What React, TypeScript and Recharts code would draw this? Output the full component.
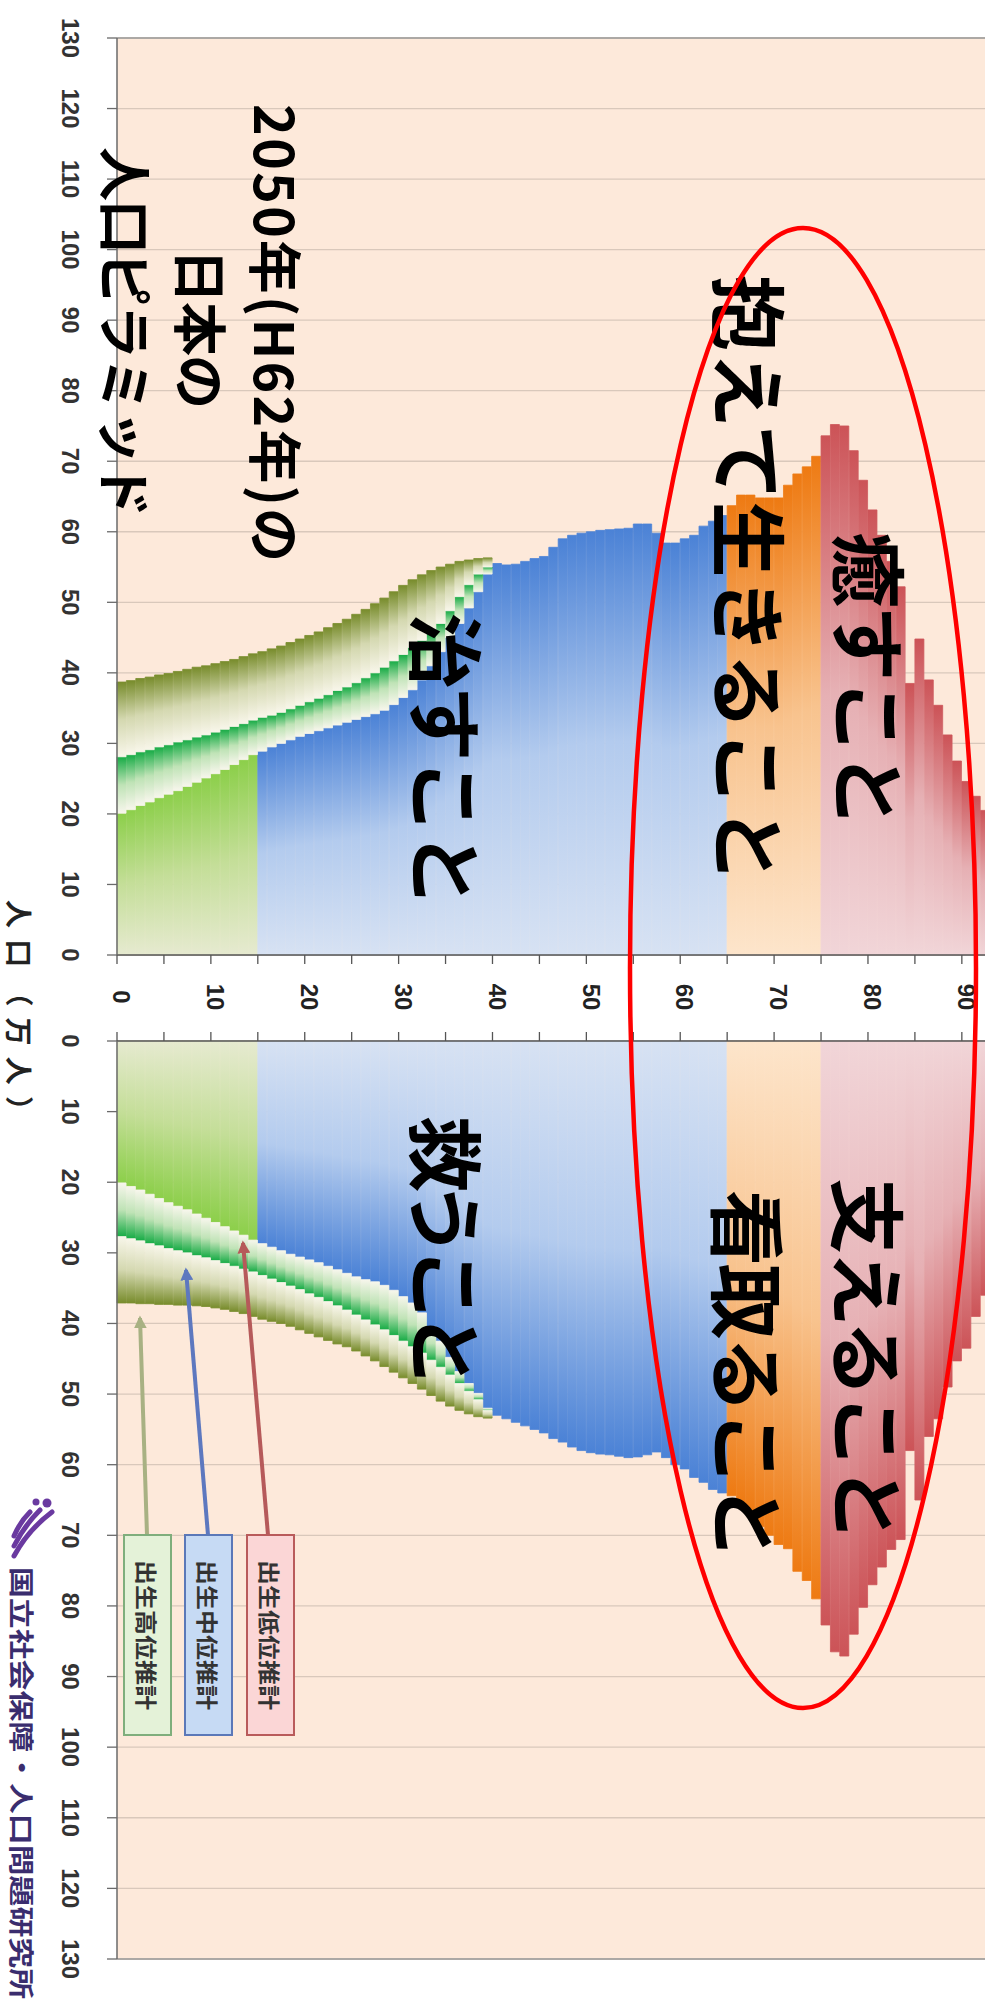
import React from "react";
import { BarChart, Bar, XAxis, YAxis, CartesianGrid, Cell, ReferenceLine } from "recharts";

// Japan, 2050 projection: population by single year of age (10,000 persons).
// The "Low" series is the low-fertility variant; from age 40 up every variant agrees.
const maleLow = [
  20.1, 20.6, 21.2, 21.7, 22.3, 22.8, 23.3, 23.9, 24.5, 25.1,
  25.7, 26.3, 27.0, 27.7, 28.4, 28.9, 29.5, 30.0, 30.5, 31.0,
  31.4, 31.8, 32.2, 32.6, 33.0, 33.4, 33.8, 34.2, 34.7, 35.5,
  36.5, 37.6, 39.0, 41.0, 43.0, 45.0, 47.0, 49.2, 51.5, 54.0,
  55.5, 55.3, 55.4, 55.8, 56.2, 56.5, 57.8, 59.0, 59.5, 59.8,
  60.0, 60.2, 60.3, 60.4, 60.5, 61.1, 61.1, 59.8, 58.4, 58.4,
  59.0, 59.5, 60.8, 61.5, 62.3, 63.7, 65.2, 65.2, 64.8, 64.8,
  64.8, 66.6, 68.2, 69.2, 70.7, 73.6, 75.2, 75.0, 71.5, 67.3,
  63.1, 59.5, 55.8, 52.2, 38.5, 44.8, 39.0, 35.4, 31.2, 27.5,
  24.6, 22.5, 20.5,
];
const maleMid = [
  28.1, 28.4, 28.8, 29.1, 29.5, 29.8, 30.2, 30.5, 30.9, 31.2,
  31.6, 32.0, 32.4, 32.8, 33.3, 33.7, 34.0, 34.4, 34.9, 35.4,
  35.9, 36.4, 36.9, 37.5, 38.0, 38.6, 39.3, 40.0, 40.8, 41.7,
  42.6, 43.6, 44.6, 45.6, 47.0, 48.8, 50.8, 52.5, 54.0, 55.0,
];
const maleHigh = [
  38.7, 38.9, 39.2, 39.4, 39.7, 39.9, 40.2, 40.5, 40.8, 41.0,
  41.3, 41.6, 41.9, 42.3, 42.7, 43.0, 43.4, 43.8, 44.3, 44.8,
  45.3, 45.8, 46.4, 47.0, 47.6, 48.3, 49.0, 49.8, 50.6, 51.5,
  52.4, 53.2, 53.9, 54.5, 55.0, 55.4, 55.8, 56.0, 56.2, 56.3,
];
const femaleLow = [
  20.1, 20.6, 21.1, 21.7, 22.3, 22.9, 23.4, 23.9, 24.5, 25.1,
  25.7, 26.3, 26.9, 27.5, 28.2, 28.7, 29.2, 29.7, 30.2, 30.6,
  31.0, 31.4, 31.9, 32.4, 32.9, 33.4, 33.8, 34.1, 34.6, 35.3,
  36.2, 37.1, 38.5, 40.5, 42.5, 44.8, 46.8, 48.5, 49.9, 52.0,
  53.0, 53.5, 54.0, 54.5, 55.0, 55.5, 56.3, 56.8, 57.5, 58.0,
  58.3, 58.5, 58.6, 58.8, 59.0, 58.9, 58.6, 58.2, 59.0, 60.0,
  60.6, 61.8, 62.5, 63.5, 64.0, 64.4, 65.6, 66.9, 68.8, 70.0,
  71.3, 71.9, 75.1, 76.4, 79.0, 82.7, 86.5, 87.1, 84.0, 80.2,
  77.0, 74.5, 72.0, 70.6, 58.0, 65.0, 56.0, 53.5, 49.0, 45.3,
  43.5, 39.0, 36.0,
];
const femaleMid = [
  27.7, 28.0, 28.3, 28.7, 29.0, 29.4, 29.7, 30.0, 30.4, 30.7,
  31.1, 31.5, 31.9, 32.3, 32.7, 33.2, 33.7, 34.2, 34.7, 35.2,
  35.8, 36.3, 36.9, 37.5, 38.1, 38.8, 39.5, 40.2, 40.9, 41.7,
  42.5, 43.3, 44.2, 45.2, 46.2, 47.3, 48.5, 49.6, 50.8, 52.3,
];
const femaleHigh = [
  37.1, 37.1, 37.2, 37.2, 37.3, 37.3, 37.4, 37.4, 37.5, 37.6,
  37.8, 38.0, 38.3, 38.6, 39.0, 39.4, 39.7, 40.0, 40.4, 40.9,
  41.4, 41.9, 42.4, 42.9, 43.3, 43.9, 44.6, 45.3, 46.1, 46.9,
  47.7, 48.5, 49.3, 50.2, 51.0, 51.7, 52.3, 52.8, 53.2, 53.4,
];

const popTicks = [0, 10, 20, 30, 40, 50, 60, 70, 80, 90, 100, 110, 120, 130];
const WORK_AGE_FROM = 15;
const ELDER_FROM = 65;
const LATE_ELDER_FROM = 75;
const AGE_TICK_STEP = 5;
const AGE_LABEL_STEP = 10;

const title = ["2050年(H62年)の", "日本の", "人口ピラミッド"];
const variantLabels = ["出生高位推計", "出生中位推計", "出生低位推計"];
const yAxisTitle = "人口（万人）";
const sourceName = "国立社会保障・人口問題研究所";

type Row = {
  age: number;
  mBase: number; mBand1: number; mBand2: number;
  fBase: number; fBand1: number; fBand2: number;
  group: string;
};

const groupOf = (age: number) =>
  age < WORK_AGE_FROM ? "Green" : age < ELDER_FROM ? "Blue" : age < LATE_ELDER_FROM ? "Orange" : "Red";

const rows: Row[] = maleLow.map((m, age) => ({
  age,
  mBase: m,
  mBand1: age < maleMid.length ? maleMid[age] - m : 0,
  mBand2: age < maleHigh.length ? maleHigh[age] - maleMid[age] : 0,
  fBase: femaleLow[age],
  fBand1: age < femaleMid.length ? femaleMid[age] - femaleLow[age] : 0,
  fBand2: age < femaleHigh.length ? femaleHigh[age] - femaleMid[age] : 0,
  group: groupOf(age),
}));

// layout
const CHART_W = 1000;
const AXIS_W = 117;
const RIGHT_M = 10;
const PLOT_W = CHART_W - AXIS_W - RIGHT_M;
const BAND = PLOT_W / rows.length;

const NUM_FONT = "'Liberation Sans', Arial, sans-serif";
const JP_FONT = "'Noto Sans CJK JP', 'Noto Sans', sans-serif";

// colour ramps: [near axis, middle, tip]
const ramps: Record<string, string[]> = {
  Green: ["#e6ead0", "#c4de98", "#8ccf4a"],
  Blue: ["#d7e2f3", "#b3cbee", "#4b82d6"],
  Orange: ["#fde5cb", "#f8c38e", "#ee7a12"],
  Red: ["#f1d5d8", "#e6b0b4", "#cc5357"],
  Band1: ["#f7f6ec", "#bfe3b6", "#16ab45"],
  Band2: ["#f8f6ea", "#d4d8b0", "#788c2c"],
};

const Gradients = () => (
  <svg width={0} height={0} style={{ position: "absolute" }}>
    <defs>
      {Object.entries(ramps).map(([k, c]) => (
        <React.Fragment key={k}>
          <linearGradient id={`t${k}`} x1="0" y1="1" x2="0" y2="0">
            <stop offset="0" stopColor={c[0]} />
            <stop offset="0.5" stopColor={c[1]} />
            <stop offset="1" stopColor={c[2]} />
          </linearGradient>
          <linearGradient id={`b${k}`} x1="0" y1="0" x2="0" y2="1">
            <stop offset="0" stopColor={c[0]} />
            <stop offset="0.5" stopColor={c[1]} />
            <stop offset="1" stopColor={c[2]} />
          </linearGradient>
        </React.Fragment>
      ))}
      <marker id="arrowHead" viewBox="0 0 10 10" refX="8" refY="5" markerWidth="3.2" markerHeight="3.2" orient="auto-start-reverse">
        <path d="M0,0 L10,5 L0,10 z" fill="context-stroke" />
      </marker>
    </defs>
  </svg>
);

const PopTick = (props: any) => {
  const { x, y, payload } = props;
  const cx = x - 37;
  return (
    <text
      x={cx}
      y={y}
      transform={`rotate(90 ${cx} ${y})`}
      textAnchor="middle"
      dominantBaseline="central"
      fontFamily={NUM_FONT}
      fontWeight={700}
      fontSize={24}
      fill="#333"
    >
      {payload.value}
    </text>
  );
};

const makeAgeTick = (dir: number, withLabel: boolean) => (props: any) => {
  const { x, y, payload } = props;
  const a = Number(payload.value);
  if (a % AGE_TICK_STEP !== 0) return <g />;
  const tx = x - BAND / 2;
  const ly = y + 42;
  return (
    <g>
      <line x1={tx} x2={tx} y1={y} y2={y + dir * 9} stroke="#555" strokeWidth={1.3} />
      {withLabel && a % AGE_LABEL_STEP === 0 && (
        <text
          x={x}
          y={ly}
          transform={`rotate(90 ${x} ${ly})`}
          textAnchor="middle"
          dominantBaseline="central"
          fontFamily={NUM_FONT}
          fontWeight={700}
          fontSize={24}
          fill="#222"
        >
          {a}
        </text>
      )}
    </g>
  );
};

const TopAgeTick = makeAgeTick(1, true);
const BottomAgeTick = makeAgeTick(-1, false);

const VText = ({ x, y, size, len, color = "#000", weight = 700, family = JP_FONT, adjust = "spacing", children }: any) => (
  <text
    x={x}
    y={y}
    transform={`rotate(90 ${x} ${y})`}
    textAnchor="middle"
    dominantBaseline="central"
    fontFamily={family}
    fontWeight={weight}
    fontSize={size}
    fill={color}
    textLength={len}
    lengthAdjust={adjust}
  >
    {children}
  </text>
);

const Pyramid = ({ side }: { side: "m" | "f" }) => {
  const top = side === "m";
  const pre = top ? "t" : "b";
  return (
    <BarChart
      width={CHART_W}
      height={top ? 1041 : 1004}
      data={rows}
      margin={top ? { top: 38, right: RIGHT_M, bottom: 0, left: 0 } : { top: 11, right: RIGHT_M, bottom: 45, left: 0 }}
      barCategoryGap={0}
      barGap={0}
    >
      <CartesianGrid vertical={false} stroke="#d9c8bb" strokeWidth={1.3} fill="#fde9da" />
      <XAxis
        dataKey="age"
        type="category"
        orientation={top ? "bottom" : "top"}
        height={top ? 86 : 30}
        interval={0}
        tickLine={false}
        tickSize={0}
        tickMargin={0}
        axisLine={{ stroke: "#555", strokeWidth: 1.5 }}
        tick={top ? <TopAgeTick /> : <BottomAgeTick />}
      />
      <YAxis
        type="number"
        domain={[0, 130]}
        ticks={popTicks}
        reversed={!top}
        width={AXIS_W}
        tickSize={10}
        tickMargin={0}
        interval={0}
        axisLine={{ stroke: "#6a6a6a", strokeWidth: 1.5 }}
        tickLine={{ stroke: "#6a6a6a", strokeWidth: 1.3 }}
        tick={<PopTick />}
      />
      <ReferenceLine y={130} stroke="#9a9a9a" strokeWidth={1.5} />
      <Bar dataKey={`${side}Base`} stackId={side} isAnimationActive={false}>
        {rows.map((r) => (
          <Cell
            key={r.age}
            fill={`url(#${pre}${r.group})`}
            stroke={`url(#${pre}${r.group})`}
            strokeWidth={0.8}
          />
        ))}
      </Bar>
      <Bar
        dataKey={`${side}Band1`}
        stackId={side}
        fill={`url(#${pre}Band1)`}
        stroke={`url(#${pre}Band1)`}
        strokeWidth={0.8}
        isAnimationActive={false}
      />
      <Bar
        dataKey={`${side}Band2`}
        stackId={side}
        fill={`url(#${pre}Band2)`}
        stroke={`url(#${pre}Band2)`}
        strokeWidth={0.8}
        isAnimationActive={false}
      />
    </BarChart>
  );
};

const legendBoxes = [
  { x: 124, fill: "#e4f2d8", stroke: "#7fae7c", arrow: "#a8b183", tip: [140, 1318], foot: 147 },
  { x: 185, fill: "#c6daf4", stroke: "#5b78b8", arrow: "#5d78bf", tip: [186, 1270], foot: 208 },
  { x: 247, fill: "#fbd6d6", stroke: "#b95b5b", arrow: "#b65a5a", tip: [243, 1243], foot: 268 },
];

const Overlay = () => (
  <svg width={985} height={2004} style={{ position: "absolute", left: 0, top: 0, pointerEvents: "none" }}>
    {/* title */}
    <VText x={277} y={333} size={54} len={458}>{title[0]}</VText>
    <VText x={202} y={329} size={54} len={160}>{title[1]}</VText>
    <VText x={127} y={332} size={54} len={370}>{title[2]}</VText>

    {/* care-stage captions */}
    <VText x={872} y={680} size={76} len={296}>癒すこと</VText>
    <VText x={752} y={579} size={76} len={608}>抱えて生きること</VText>
    <VText x={449} y={760} size={76} len={295}>治すこと</VText>
    <VText x={871} y={1360} size={76} len={364}>支えること</VText>
    <VText x={751} y={1375} size={76} len={370}>看取ること</VText>
    <VText x={449} y={1252} size={76} len={272}>救うこと</VText>

    <ellipse cx={803} cy={968} rx={173} ry={740} fill="none" stroke="#ff0000" strokeWidth={4.5} />

    {/* fertility-variant keys */}
    {legendBoxes.map((b, i) => (
      <g key={i}>
        <line x1={b.foot} y1={1535} x2={b.tip[0]} y2={b.tip[1]} stroke={b.arrow} strokeWidth={4} markerEnd="url(#arrowHead)" />
        <rect x={b.x} y={1535} width={47} height={200} fill={b.fill} stroke={b.stroke} strokeWidth={2} />
        <VText x={b.x + 23.5} y={1635} size={22} len={150} color="#333" adjust="spacingAndGlyphs">{variantLabels[i]}</VText>
      </g>
    ))}

    <VText x={20} y={1012} size={28} len={224} color="#222">{yAxisTitle}</VText>

    {/* institute mark */}
    <g stroke="#6a3aa0" strokeWidth={5} fill="none" strokeLinecap="round">
      <path d="M14,1556 Q28,1530 52,1512" />
      <path d="M14,1546 Q24,1526 40,1510" />
      <path d="M14,1536 Q20,1522 30,1512" />
    </g>
    <circle cx={47} cy={1503} r={4.5} fill="#6a3aa0" />
    <circle cx={36} cy={1502} r={3.5} fill="#6a3aa0" />
    <VText x={23} y={1783} size={25} len={432} color="#3a2d6e" adjust="spacingAndGlyphs">{sourceName}</VText>
  </svg>
);

export default function App() {
  return (
    <div
      style={{
        position: "absolute",
        left: 0,
        top: 0,
        width: 985,
        height: 2004,
        overflow: "hidden",
        background: "#fff",
      }}
    >
      <Gradients />
      <div style={{ position: "absolute", left: 0, top: 0 }}>
        <Pyramid side="m" />
      </div>
      <div style={{ position: "absolute", left: 0, top: 1000 }}>
        <Pyramid side="f" />
      </div>
      <Overlay />
    </div>
  );
}
